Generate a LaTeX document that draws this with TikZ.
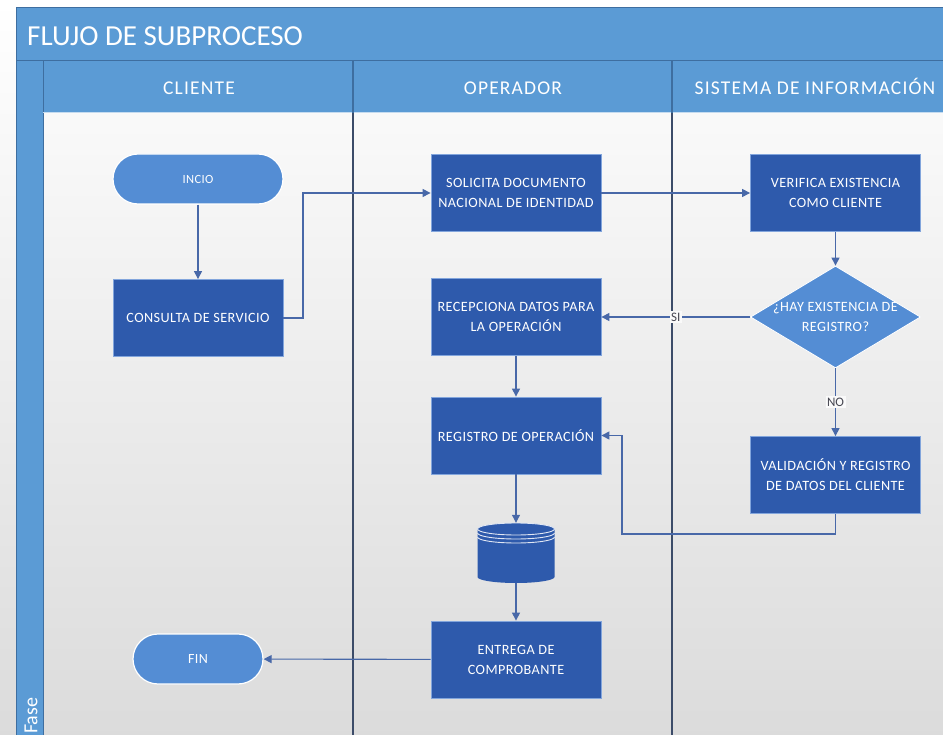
\documentclass[tikz,border=0pt]{standalone}
\usepackage{fontspec}
\setmainfont{Carlito}
\newfontfamily\hdrfont[LetterSpace=6]{Carlito}
\newfontfamily\boxfont[LetterSpace=3]{Carlito}
\usetikzlibrary{arrows.meta,shapes.geometric}

\definecolor{hdrblue}{RGB}{91,155,213}
\definecolor{hdrline}{RGB}{62,110,160}
\definecolor{boxblue}{RGB}{46,90,172}
\definecolor{boxedge}{RGB}{130,165,220}
\definecolor{termblue}{RGB}{84,141,212}
\definecolor{arrowc}{RGB}{72,104,168}
\definecolor{lanec}{RGB}{60,76,105}
\definecolor{labelc}{RGB}{70,70,80}

\begin{document}
\begin{tikzpicture}[x=1pt,y=-1pt,
  procbox/.style={rectangle, fill=boxblue, draw=boxedge, line width=0.8pt,
    minimum width=170pt, minimum height=77pt, inner sep=0pt,
    text=white, align=center, font=\boxfont\fontsize{14.2}{20}\selectfont},
  termbox/.style={rectangle, rounded corners=25pt, fill=termblue, draw=white,
    line width=1.2pt, minimum width=170pt, minimum height=50pt, inner sep=0pt,
    text=white, font=\boxfont\fontsize{12.5}{15}\selectfont},
  flow/.style={draw=arrowc, line width=1.1pt, -{Triangle[length=8pt,width=8pt]}},
  lbl/.style={fill=white!96!gray, inner sep=1.5pt, text=labelc,
    font=\fontsize{13}{13}\selectfont},
  hdrtext/.style={text=white, inner sep=0pt, anchor=base,
    font=\hdrfont\fontsize{19.5}{19.5}\selectfont}]

\useasboundingbox (0,0) rectangle (943,735);

% page background with soft vertical gradient
\fill[top color=white, bottom color=gray!28] (0,0) rectangle (943,735);

% title band, header row and phase strip
\fill[hdrblue] (16,8) rectangle (943,113);
\fill[hdrblue] (16,113) rectangle (43,735);
\draw[hdrline, line width=1pt] (16,735) -- (16,8) -- (943,8);
\draw[hdrline, line width=1pt] (16,61) -- (943,61);
\draw[hdrline, line width=1pt] (43,61) -- (43,735);
\draw[white!65!hdrblue, line width=1pt] (43,113) -- (943,113);

\node[anchor=base west, text=white, inner sep=0pt,
  font=\fontsize{29}{29}\selectfont] (title) at (27,46) {FLUJO DE SUBPROCESO};
\node[hdrtext] (hcli) at (199,95) {CLIENTE};
\node[hdrtext] (hope) at (513,95) {OPERADOR};
\node[hdrtext] (hsis) at (815,95) {SISTEMA DE INFORMACIÓN};
\node[rotate=90, anchor=west, text=white, inner sep=0pt,
  font=\fontsize{20}{20}\selectfont] (fase) at (31,734) {Fase};

% lane separators
\draw[hdrline, line width=1.3pt] (353,61) -- (353,113);
\draw[hdrline, line width=1.3pt] (672,61) -- (672,113);
\draw[lanec, line width=1.3pt] (353,113) -- (353,735);
\draw[lanec, line width=1.3pt] (672,113) -- (672,735);

% flow elements
\node[termbox] (inicio) at (198,179) {INCIO};
\node[procbox] (cons) at (198,318) {CONSULTA DE SERVICIO};
\node[procbox] (sol) at (516,193) {SOLICITA DOCUMENTO\\NACIONAL DE IDENTIDAD};
\node[procbox] (ver) at (835.5,193) {VERIFICA EXISTENCIA\\COMO CLIENTE};
\node[diamond, fill=termblue, draw=white, line width=0.8pt,
  minimum width=170pt, minimum height=102pt, inner sep=0pt] (dec) at (835.5,317) {};
\node[text=white, align=center, inner sep=0pt,
  font=\boxfont\fontsize{14.2}{20}\selectfont] (dectxt) at (dec.center) {¿HAY EXISTENCIA DE\\REGISTRO?};
\node[procbox] (rec) at (516,317) {RECEPCIONA DATOS PARA\\LA OPERACIÓN};
\node[procbox] (reg) at (516,435.5) {REGISTRO DE OPERACIÓN};
\node[procbox] (val) at (835.5,475) {VALIDACIÓN Y REGISTRO\\DE DATOS DEL CLIENTE};
\node[procbox] (ent) at (516,659.5) {ENTREGA DE\\COMPROBANTE};
\node[termbox, minimum width=130pt, font=\boxfont\fontsize{14}{15}\selectfont] (fin) at (198,659) {FIN};

% data store
\node[minimum width=77pt, minimum height=60pt, inner sep=0pt] (db) at (516,553) {};
\fill[boxblue] (477.5,529) -- (477.5,577)
  arc[start angle=180, end angle=0, x radius=38.5, y radius=6]
  -- (554.5,529)
  arc[start angle=0, end angle=-180, x radius=38.5, y radius=6] -- cycle;
\draw[white!85!boxblue, line width=0.9pt] (516,529) ellipse[x radius=38.5, y radius=6];
\draw[white!85!boxblue, line width=0.9pt] (477.5,533)
  arc[start angle=180, end angle=0, x radius=38.5, y radius=6];
\draw[white!85!boxblue, line width=0.9pt] (477.5,537)
  arc[start angle=180, end angle=0, x radius=38.5, y radius=6];

% connectors
\coordinate (jog) at (303,318);
\coordinate (back) at (622,534);
\draw[flow] (inicio) -- (cons);
\draw[flow] (cons.east) -- (jog) |- (sol.west);
\draw[flow] (sol) -- (ver);
\draw[flow] (ver) -- (dec);
\draw[flow] (dec.west) -- node[lbl, pos=0.5] (si) {SI} (rec.east);
\draw[flow] (dec.south) -- node[lbl, pos=0.5] (no) {NO} (val.north);
\draw[flow] (rec) -- (reg);
\draw[flow] (val.south) |- (back) |- (reg.east);
\draw[flow] (reg) -- (db);
\draw[flow] (db) -- (ent);
\draw[flow] (ent) -- (fin);

\end{tikzpicture}
\end{document}
